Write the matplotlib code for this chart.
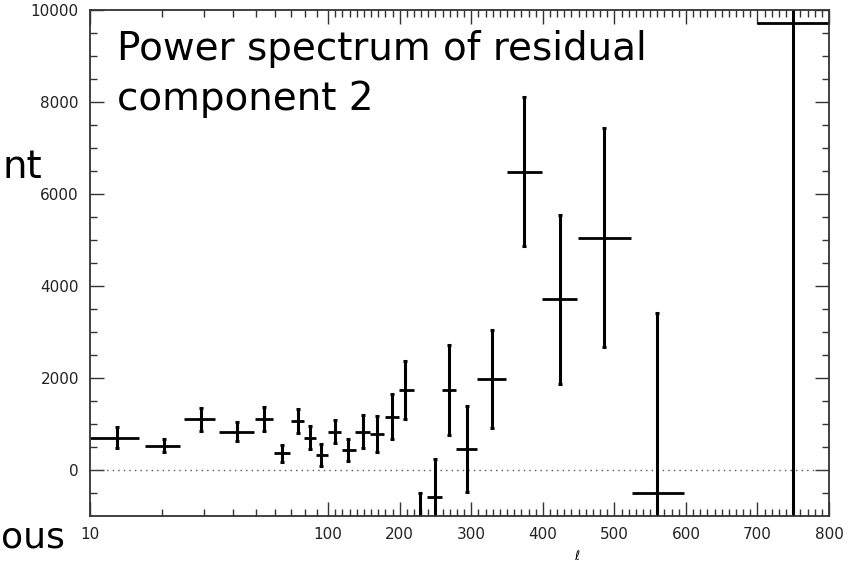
import matplotlib
matplotlib.use("Agg")
import matplotlib.pyplot as plt
import numpy as np

# multipole bin centres and edges
ell = [13, 20.4, 29.3, 41.6, 54, 64.2, 74.5, 84, 93.1, 110, 128, 148, 168, 189, 208,
       228, 249, 269, 294, 329, 374, 424, 486, 560, 750]
ell_lo = [10, 17, 24.9, 34.9, 49.4, 59.3, 69.6, 79.2, 88.6, 99.5, 119.5, 138, 159, 180, 198.5,
          219, 238, 259, 279, 308, 350, 398.5, 449.5, 524, 699]
ell_hi = [16, 23.9, 33.5, 48.6, 58.9, 69.2, 79.2, 88.6, 99.4, 118, 139.5, 159, 178.5, 198.5, 219.4,
          238, 259, 279, 308.6, 348.7, 398.5, 448, 523, 598, 800]
power = [696, 528, 1102, 833, 1102, 363, 1065, 703, 326, 833, 435, 833, 783, 1159, 1739,
         -1700, -580, 1739, 457, 1978, 6485, 3711, 5050, -507, 9725]
power_err = [228, 145, 254, 204, 265, 182, 254, 246, 236, 254, 244, 362, 388, 486, 630,
             1190, 813, 968, 930, 1062, 1615, 1837, 2377, 3914, 12000]

major_x = [10, 100, 200, 300, 400, 500, 600, 700, 800]
minor_x = list(range(20, 100, 10)) + [v for v in range(110, 800, 10) if v % 100]
yticks = [0, 2000, 4000, 6000, 8000, 10000]

LIN = 0.003004  # scale units per unit of ell above 100 (log below 100)


def fwd(x):
    x = np.asarray(x, dtype=float)
    xs = np.clip(x, 1e-3, None)
    return np.where(x <= 100, np.log10(xs) - 1, 1 + (x - 100) * LIN)


def inv(y):
    y = np.asarray(y, dtype=float)
    return np.where(y <= 1, 10 ** (np.minimum(y, 1) + 1), 100 + (y - 1) / LIN)


W, H = 863, 564
fig = plt.figure(figsize=(W / 100, H / 100), dpi=100)
ax = fig.add_axes([90 / W, 1 - 516 / H, (829 - 90) / W, (516 - 10) / H])
ax.set_xscale("function", functions=(fwd, inv))
ax.set_xlim(10, 800)
ax.set_ylim(-1000, 10000)

ell = np.array(ell); lo = ell - np.array(ell_lo); hi = np.array(ell_hi) - ell
ax.axhline(0, color="#555555", lw=1, ls=(0, (1, 3)))
ax.errorbar(ell, power, yerr=power_err, fmt="none", ecolor="black", elinewidth=2.2,
            capsize=1.5, capthick=2.2)
ax.errorbar(ell, power, xerr=[lo, hi], fmt="none", ecolor="black", elinewidth=2.0, capsize=0)

ax.set_xticks(major_x)
ax.set_xticklabels([str(v) for v in major_x])
ax.set_xticks(minor_x, minor=True)
ax.set_yticks(yticks)
ax.set_yticks(np.arange(-500, 10000, 500), minor=True)
ax.tick_params(which="both", direction="in", top=True, right=True, color="#333333",
               labelsize=11, labelcolor="#222222", width=1)
ax.tick_params(which="major", length=10, pad=8)
ax.tick_params(which="minor", length=5)
for s in ax.spines.values():
    s.set_color("#333333"); s.set_linewidth(1.3)

fig.text(117 / W, 1 - 60 / H, "Power spectrum of residual", fontsize=28, va="baseline", ha="left")
fig.text(117 / W, 1 - 110 / H, "component 2", fontsize=28, va="baseline", ha="left")
fig.text(577 / W, 1 - 560 / H, "ℓ", fontsize=9, style="italic", ha="center", va="baseline")
fig.text(42 / W, 1 - 178 / H, "nt", fontsize=28, ha="right", va="baseline")
fig.text(1 / W, 1 - 548 / H, "ous", fontsize=26, ha="left", va="baseline")

fig.savefig("out.png", dpi=100)
